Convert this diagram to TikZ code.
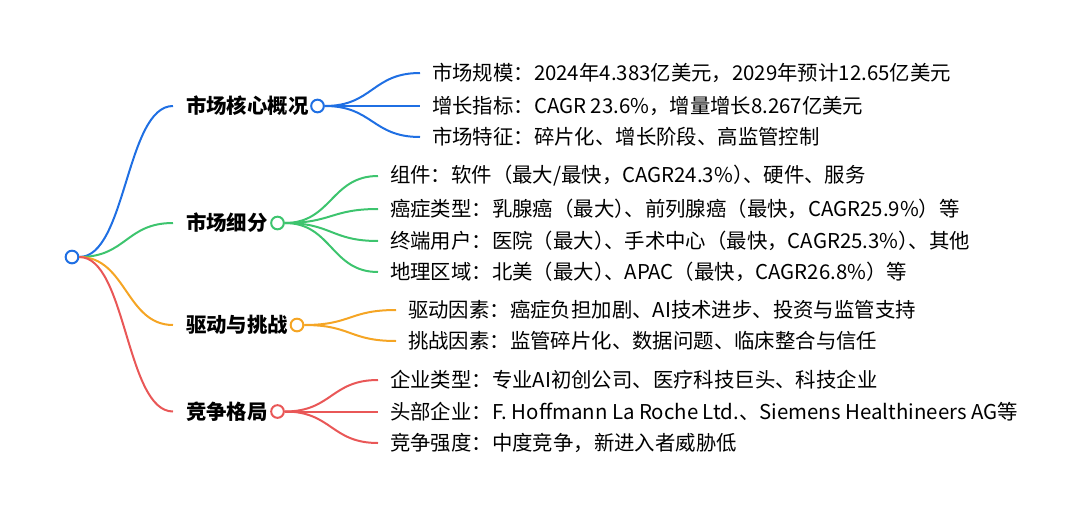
\documentclass[tikz,border=0pt]{standalone}
\usepackage{fontspec}
\setmainfont{Noto Sans CJK SC}
\definecolor{mapblue}{HTML}{1F6FE3}
\definecolor{mapgreen}{HTML}{3DC46E}
\definecolor{maporange}{HTML}{F5A524}
\definecolor{mapred}{HTML}{E95757}
\newcommand{\shutparen}{）\kern-0.5em}
\begin{document}
\begin{tikzpicture}[x=0.75pt,y=-0.75pt,
  knob/.style={circle,draw,fill=white,line width=1.5pt,minimum size=9.5pt,inner sep=0pt},
  topic/.style={anchor=west,inner sep=0pt,outer xsep=9.75pt,font=\fontsize{15.3}{18}\selectfont\bfseries},
  leaf/.style={anchor=west,inner sep=0pt,outer xsep=9pt,font=\fontsize{15.3}{18}\selectfont},
  link/.style={line width=1.5pt}]
  \useasboundingbox (0,0) rectangle (1080,517);

  %root
  \node[knob,draw=mapblue] (root) at (72,257) {};

  %titles
  \node[topic] (core) at (173,106) {市场核心概况};
  \node[topic] (segment) at (173,223) {市场细分};
  \node[topic] (driver) at (173,325) {驱动与挑战};
  \node[topic] (rival) at (173,411.5) {竞争格局};

  %root to titles
  \draw[link,mapblue] (root.east) .. controls +(47,0) and +(-47,0) .. (core.west);
  \draw[link,mapgreen] (root.east) .. controls +(47,0) and +(-47,0) .. (segment.west);
  \draw[link,maporange] (root.east) .. controls +(47,0) and +(-47,0) .. (driver.west);
  \draw[link,mapred] (root.east) .. controls +(47,0) and +(-47,0) .. (rival.west);

  %first branch
  \node[knob,draw=mapblue] (coreknob) at (317.5,106) {};
  \node[leaf] (size) at (420,73) {市场规模：2024年4.383亿美元，2029年预计12.65亿美元};
  \node[leaf] (growth) at (420,106) {增长指标：CAGR 23.6\%，增量增长8.267亿美元};
  \node[leaf] (feature) at (420,137) {市场特征：碎片化、增长阶段、高监管控制};
  \draw[link,mapblue] (coreknob.east) .. controls +(48,0) and +(-48,0) .. (size.west);
  \draw[link,mapblue] (coreknob.east) .. controls +(48,0) and +(-48,0) .. (growth.west);
  \draw[link,mapblue] (coreknob.east) .. controls +(48,0) and +(-48,0) .. (feature.west);

  %second branch
  \node[knob,draw=mapgreen] (segknob) at (277.5,223) {};
  \node[leaf] (parts) at (378,176) {组件：软件（最大/最快，CAGR24.3\%\shutparen、硬件、服务};
  \node[leaf] (cancer) at (378,209) {癌症类型：乳腺癌（最大\shutparen、前列腺癌（最快，CAGR25.9\%）等};
  \node[leaf] (users) at (378,241) {终端用户：医院（最大\shutparen、手术中心（最快，CAGR25.3\%\shutparen、其他};
  \node[leaf] (region) at (378,272) {地理区域：北美（最大\shutparen、APAC（最快，CAGR26.8\%）等};
  \draw[link,mapgreen] (segknob.east) .. controls +(47,0) and +(-47,0) .. (parts.west);
  \draw[link,mapgreen] (segknob.east) .. controls +(47,0) and +(-47,0) .. (cancer.west);
  \draw[link,mapgreen] (segknob.east) .. controls +(47,0) and +(-47,0) .. (users.west);
  \draw[link,mapgreen] (segknob.east) .. controls +(47,0) and +(-47,0) .. (region.west);

  %third branch
  \node[knob,draw=maporange] (drvknob) at (297,325) {};
  \node[leaf] (push) at (396,310) {驱动因素：癌症负担加剧、AI技术进步、投资与监管支持};
  \node[leaf] (hurdle) at (396,341) {挑战因素：监管碎片化、数据问题、临床整合与信任};
  \draw[link,maporange] (drvknob.east) .. controls +(47,0) and +(-47,0) .. (push.west);
  \draw[link,maporange] (drvknob.east) .. controls +(47,0) and +(-47,0) .. (hurdle.west);

  %fourth branch
  \node[knob,draw=mapred] (rivknob) at (277.5,411.5) {};
  \node[leaf] (kinds) at (378,380) {企业类型：专业AI初创公司、医疗科技巨头、科技企业};
  \node[leaf] (leaders) at (378,411.5) {头部企业：F. Hoffmann La Roche Ltd.、Siemens Healthineers AG等};
  \node[leaf] (intensity) at (378,443) {竞争强度：中度竞争，新进入者威胁低};
  \draw[link,mapred] (rivknob.east) .. controls +(47,0) and +(-47,0) .. (kinds.west);
  \draw[link,mapred] (rivknob.east) .. controls +(47,0) and +(-47,0) .. (leaders.west);
  \draw[link,mapred] (rivknob.east) .. controls +(47,0) and +(-47,0) .. (intensity.west);
\end{tikzpicture}
\end{document}
